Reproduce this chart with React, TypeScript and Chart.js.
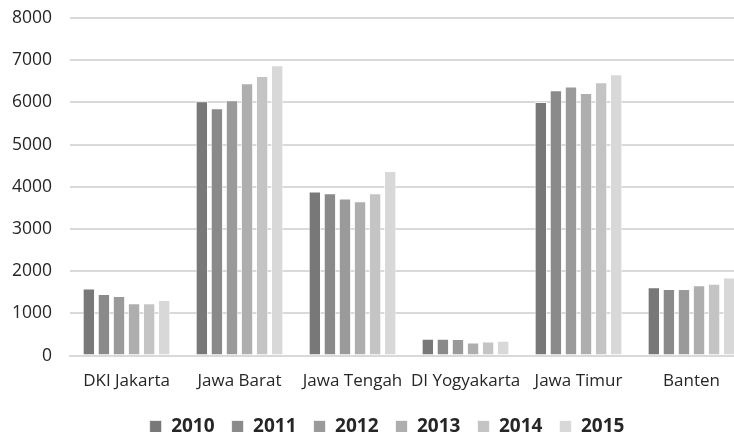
import React, { useEffect, useRef } from "react";
import { Chart, registerables } from "chart.js";

Chart.register(...registerables);

const categories = ["DKI Jakarta", "Jawa Barat", "Jawa Tengah", "DI Yogyakarta", "Jawa Timur", "Banten"];
const years = ["2010", "2011", "2012", "2013", "2014", "2015"];
const values2010 = [1590, 6030, 3890, 397, 6010, 1620];
const values2011 = [1460, 5860, 3850, 397, 6285, 1580];
const values2012 = [1410, 6050, 3720, 395, 6375, 1580];
const values2013 = [1240, 6455, 3660, 310, 6220, 1665];
const values2014 = [1240, 6625, 3850, 333, 6475, 1705];
const values2015 = [1320, 6880, 4375, 350, 6665, 1850];
const yTicks = [0, 1000, 2000, 3000, 4000, 5000, 6000, 7000, 8000];
const colors = ["#787878", "#8a8a8a", "#9a9a9a", "#aeaeae", "#c4c4c4", "#d8d8d8"];

const legendShift = {
  id: "legendShift",
  beforeLayout(chart: any) {
    const lg = chart.legend;
    if (lg && !lg._patchedFit) {
      const orig = lg.fit.bind(lg);
      lg.fit = function () {
        orig();
        this.height -= 20;
      };
      lg._patchedFit = true;
    }
  },
  afterLayout(chart: any) {
    const lg = chart.legend;
    if (lg) {
      lg.top -= 6;
      lg.bottom = chart.height;
      lg.height = lg.bottom - lg.top;
      lg.left += 7;
      lg.right += 7;
    }
  },
};

export default function App() {
  const ref = useRef<HTMLCanvasElement | null>(null);
  useEffect(() => {
    if (!ref.current) return;
    const series = [values2010, values2011, values2012, values2013, values2014, values2015];
    const chart = new Chart(ref.current, {
      type: "bar",
      data: {
        labels: categories,
        datasets: series.map((d, i) => ({
          label: years[i],
          data: d,
          backgroundColor: colors[i],
          borderColor: "rgba(255,255,255,0.7)",
          borderWidth: 1,
          categoryPercentage: 0.8,
          barPercentage: 0.82,
        })),
      },
      plugins: [legendShift],
      options: {
        animation: false,
        responsive: false,
        maintainAspectRatio: false,
        layout: { padding: { left: 12, right: 0, top: 18, bottom: 0 } },
        plugins: {
          tooltip: { enabled: false },
          legend: {
            position: "bottom",
            labels: {
              boxWidth: 12,
              boxHeight: 12,
              padding: 17,
              color: "#262626",
              font: { family: "Open Sans", size: 19, weight: "bold" },
            },
          },
        },
        scales: {
          x: {
            grid: { display: false, drawTicks: false },
            border: { display: true, color: "#d9d9d9", width: 2 },
            ticks: {
              padding: 15,
              color: "#262626",
              font: { family: "Open Sans", size: 17 },
              maxRotation: 0,
              autoSkip: false,
            },
          },
          y: {
            min: 0,
            max: 8000,
            afterBuildTicks: (axis: any) => {
              axis.ticks = yTicks.map((v) => ({ value: v }));
            },
            grid: {
              color: "#d9d9d9",
              lineWidth: 2,
              drawTicks: true,
              tickLength: 18,
              tickColor: "rgba(0,0,0,0)",
            },
            border: { display: false },
            ticks: {
              padding: 0,
              color: "#262626",
              font: { family: "Open Sans", size: 17.5 },
              callback: (v: any) => String(v),
            },
          },
        },
      },
    });
    return () => chart.destroy();
  }, []);
  return (
    <div style={{ position: "absolute", left: 0, top: 0, width: 734, height: 432, overflow: "hidden", background: "#fff" }}>
      <canvas ref={ref} width={748} height={432} style={{ width: 748, height: 432, display: "block" }} />
    </div>
  );
}
